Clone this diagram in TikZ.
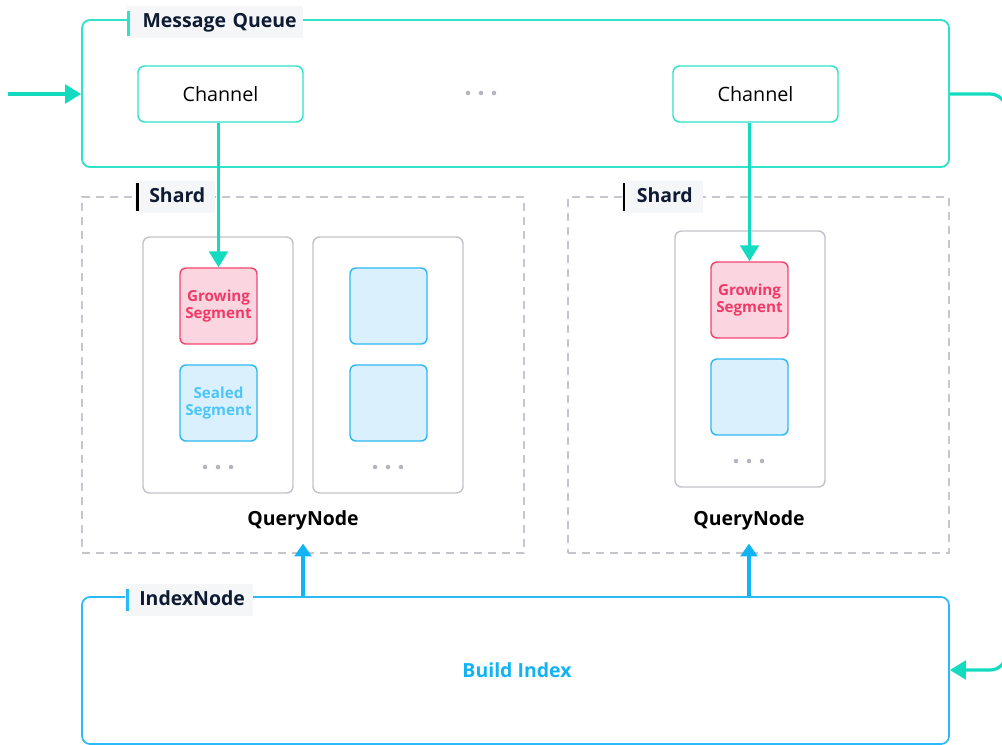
\documentclass[tikz,border=0pt]{standalone}
\usepackage{fontspec}
\setmainfont{Open Sans}
\usetikzlibrary{arrows.meta,fit,positioning}
\definecolor{tealbox}{HTML}{2FE3CB}
\definecolor{tealarr}{HTML}{14DBC0}
\definecolor{dashgray}{HTML}{C6C6CE}
\definecolor{qngray}{HTML}{C2C2CA}
\definecolor{lblbg}{HTML}{F4F6F8}
\definecolor{navy}{HTML}{0F1B33}
\definecolor{idxblue}{HTML}{2ABAF7}
\definecolor{arrblue}{HTML}{12B3F5}
\definecolor{growfill}{HTML}{FBD6E0}
\definecolor{growline}{HTML}{F2456F}
\definecolor{growtext}{HTML}{F03A68}
\definecolor{sealfill}{HTML}{DAF1FD}
\definecolor{sealline}{HTML}{2DB9F6}
\definecolor{sealtext}{HTML}{4DC5F8}
\definecolor{dotgray}{HTML}{B4B4C0}
\tikzset{
  mqbox/.style={draw=tealbox, line width=1.4pt, rounded corners=6pt, inner sep=0pt},
  chanbox/.style={draw=tealbox, line width=1.1pt, rounded corners=5pt, fill=white,
    minimum width=123.75pt, minimum height=42pt, inner sep=0pt,
    font=\fontsize{14.8}{17}\selectfont},
  shardbox/.style={draw=dashgray, line width=0.9pt, dash pattern=on 6pt off 4.5pt, inner sep=0pt},
  qnbox/.style={draw=qngray, line width=1.1pt, rounded corners=5pt, inner sep=0pt},
  idxbox/.style={draw=idxblue, line width=1.3pt, rounded corners=6pt, inner sep=0pt},
  seggrow/.style={draw=growline, fill=growfill, line width=1.1pt, rounded corners=4.5pt,
    minimum width=57.75pt, minimum height=57pt, inner sep=0pt, align=center,
    text=growtext, font=\fontsize{11.4}{13}\selectfont\bfseries},
  segseal/.style={draw=sealline, fill=sealfill, line width=1.1pt, rounded corners=4.5pt,
    minimum width=57.75pt, minimum height=57pt, inner sep=0pt, align=center,
    text=sealtext, font=\fontsize{11.4}{13}\selectfont\bfseries},
  titlelbl/.style={fill=lblbg, anchor=west, inner xsep=0pt, inner ysep=5pt,
    text=navy, font=\fontsize{14.6}{17}\selectfont\bfseries,
    text depth=3pt, text height=11pt},
  qnlbl/.style={font=\fontsize{14.6}{17}\selectfont\bfseries, text=black},
  tealarrow/.style={draw=tealarr, line width=2.4pt, -{Triangle[length=12pt,width=14pt]}},
  bluearrow/.style={draw=arrblue, line width=2.3pt, -{Triangle[length=9.5pt,width=12.5pt]}},
  dot/.style={circle, fill=dotgray, inner sep=0pt, minimum size=3.4pt},
}
\newcommand{\threedots}[3]{%
  \node[dot] (#1a) at (#2-13,#3) {};
  \node[dot] (#1b) at (#2,#3) {};
  \node[dot] (#1c) at (#2+13,#3) {};}
\begin{document}
\begin{tikzpicture}[x=0.75pt,y=-0.75pt]
\useasboundingbox (0,0) rectangle (1002,744);

% --- message queue ---
\node[mqbox, fit={(82,20) (949,167)}] (mq) {};
\node[chanbox] (ch1) at (220.5,94) {Channel};
\node[chanbox] (ch2) at (755.5,94) {Channel};
\threedots{mqd}{481}{93}
\node[titlelbl, minimum width=132pt, text width=124pt, align=left] (mqT) at (127,22) {\hspace*{7.5pt}Message Queue};
\draw[tealbox, line width=2.3pt] ([xshift=1pt,yshift=-4pt]mqT.north west) -- ([xshift=1pt,yshift=2pt]mqT.south west);

% --- left shard ---
\node[shardbox, fit={(82,197) (524,553)}] (sh1) {};
\node[titlelbl, minimum width=60pt, text width=56pt, align=left] (sh1T) at (135,197) {\hspace*{8.5pt}Shard};
\draw[black, line width=2pt] ([xshift=2pt,yshift=-2pt]sh1T.north west) -- ([xshift=2pt,yshift=2pt]sh1T.south west);
\node[qnbox, fit={(143,237) (293,493)}] (qn1) {};
\node[qnbox, fit={(313,237) (463,493)}] (qn2) {};
\node[seggrow] (gs1) at (218.5,306) {Growing\\Segment};
\node[segseal] (ss1) at (218.5,403) {Sealed\\Segment};
\node[segseal] (ss2) at (388.5,306) {};
\node[segseal] (ss3) at (388.5,403) {};
\threedots{qd1}{218}{467}
\threedots{qd2}{388}{467}
\node[qnlbl] (ql1) at (303,520) {QueryNode};

% --- right shard ---
\node[shardbox, fit={(568,197) (949,553)}] (sh2) {};
\node[titlelbl, minimum width=60.75pt, text width=56pt, align=left] (sh2T) at (622,197) {\hspace*{8.5pt}Shard};
\draw[black, line width=2pt] ([xshift=1.5pt,yshift=-2pt]sh2T.north west) -- ([xshift=1.5pt,yshift=2pt]sh2T.south west);
\node[qnbox, fit={(675,231) (825,487)}] (qn3) {};
\node[seggrow] (gs2) at (749.5,300) {Growing\\Segment};
\node[segseal] (ss4) at (749.5,397) {};
\threedots{qd3}{749}{461}
\node[qnlbl] (ql2) at (749,520) {QueryNode};

% --- index node ---
\node[idxbox, fit={(82,597) (949,744)}] (idx) {};
\node[titlelbl, minimum width=96pt, text width=92pt, align=left] (idxT) at (125,600) {\hspace*{8.5pt}IndexNode};
\draw[idxblue, line width=2pt] ([xshift=2pt,yshift=-4pt]idxT.north west) -- ([xshift=2pt,yshift=4pt]idxT.south west);
\node[font=\fontsize{14.6}{17}\selectfont\bfseries, text=arrblue] (bi) at (517,670) {Build Index};

% --- connectors ---
\coordinate (src) at (8,94);
\draw[tealarrow] (src) -- (mq.west |- src);
\draw[tealarrow] (gs1.north |- ch1.south) -- (gs1.north);
\draw[tealarrow] (gs2.north |- ch2.south) -- (gs2.north);
\coordinate (loop) at (1006,94);
\draw[tealarrow, rounded corners=12pt] (mq.east |- ch2.east) -- (loop) |- (idx.east |- bi);
\draw[bluearrow] (ql1.south |- idx.north) -- ([yshift=7.5pt]sh1.south -| ql1.south);
\draw[bluearrow] (ql2.south |- idx.north) -- ([yshift=7.5pt]sh2.south -| ql2.south);
\end{tikzpicture}
\end{document}
